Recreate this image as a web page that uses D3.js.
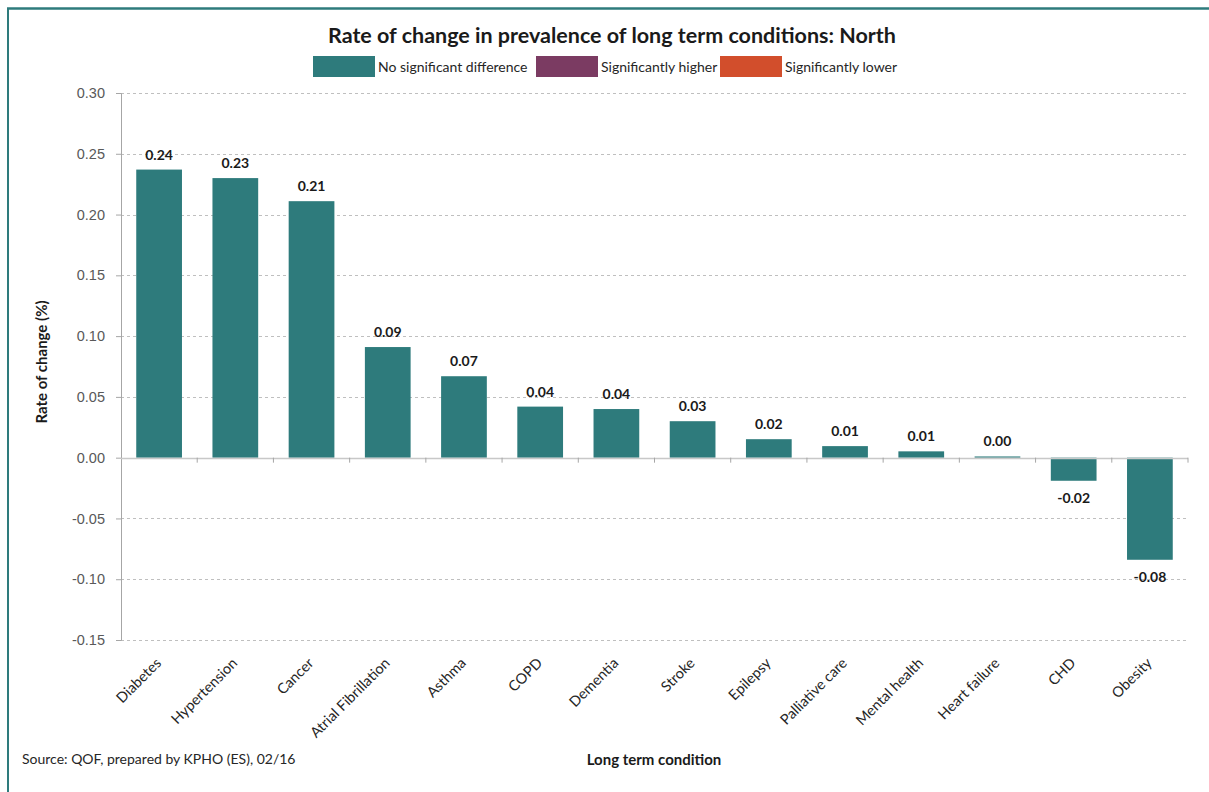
<!DOCTYPE html>
<html>
<head>
<meta charset="utf-8">
<script src="https://cdn.jsdelivr.net/npm/d3@7"></script>
<style>
  html, body { margin: 0; padding: 0; background: #fff; }
  svg { display: block; font-family: "Lato", "Open Sans", sans-serif; }
</style>
</head>
<body>
<svg id="chart" width="1209" height="792"></svg>
<script>
// Long term conditions, ordered by rate of change
const conditions = ["Diabetes", "Hypertension", "Cancer", "Atrial Fibrillation", "Asthma", "COPD",
  "Dementia", "Stroke", "Epilepsy", "Palliative care", "Mental health", "Heart failure", "CHD", "Obesity"];
const rateOfChange = [0.237, 0.230, 0.211, 0.091, 0.067, 0.042, 0.040, 0.030, 0.0152, 0.0095, 0.0052, 0.001, -0.019, -0.084];
const yTicks = [-0.15, -0.10, -0.05, 0.00, 0.05, 0.10, 0.15, 0.20, 0.25, 0.30];
const legendLabels = ["No significant difference", "Significantly higher", "Significantly lower"];
const legendColors = ["#2E7B7C", "#7B3B62", "#D24E2C"];

const svg = d3.select("#chart");
const margin = { left: 121, right: 1188, top: 93, bottom: 640 };

const x = d3.scaleBand().domain(conditions).range([margin.left, margin.right]).paddingInner(0.4).paddingOuter(0.2);
const y = d3.scaleLinear().domain([-0.15, 0.30]).range([margin.bottom, margin.top]);

// frame lines
svg.append("line").attr("x1", 7).attr("x2", 1209).attr("y1", 8.5).attr("y2", 8.5)
  .attr("stroke", "#2E7B7C").attr("stroke-width", 2.5);
svg.append("line").attr("x1", 8).attr("x2", 8).attr("y1", 8).attr("y2", 792)
  .attr("stroke", "#2E7B7C").attr("stroke-width", 2);

// gridlines
svg.append("g").selectAll("line").data(yTicks.filter(d => d !== 0)).join("line")
  .attr("x1", margin.left).attr("x2", margin.right)
  .attr("y1", d => Math.round(y(d)) + 0.5).attr("y2", d => Math.round(y(d)) + 0.5)
  .attr("stroke", "#bfbfbf").attr("stroke-dasharray", "3,3");

// y axis
const yAxis = svg.append("g").attr("transform", `translate(${margin.left},0)`)
  .call(d3.axisLeft(y).tickValues(yTicks).tickFormat(d3.format(".2f")).tickSize(5).tickPadding(11));
yAxis.select(".domain").attr("stroke", "#a6a6a6");
yAxis.selectAll(".tick line").attr("stroke", "#a6a6a6");
yAxis.selectAll(".tick text").attr("fill", "#595959").style("font-size", "14.5px")
  .text(d => d3.format(".2f")(d).replace("−", "-"));

// bars
svg.append("g").selectAll("rect").data(conditions).join("rect")
  .attr("x", d => x(d))
  .attr("width", x.bandwidth())
  .attr("y", (d, i) => y(Math.max(0, rateOfChange[i])))
  .attr("height", (d, i) => Math.abs(y(rateOfChange[i]) - y(0)))
  .attr("fill", legendColors[0]);

// x axis at zero
const step = x.step();
const boundaries = d3.range(conditions.length + 1).map(i => margin.left + i * step);
svg.append("line").attr("x1", margin.left).attr("x2", margin.right)
  .attr("y1", Math.round(y(0)) + 0.5).attr("y2", Math.round(y(0)) + 0.5)
  .attr("stroke", "#c8c8c8").attr("stroke-width", 1.5);
svg.append("g").selectAll("line").data(boundaries.slice(1)).join("line")
  .attr("x1", d => d).attr("x2", d => d)
  .attr("y1", y(0)).attr("y2", y(0) + 5)
  .attr("stroke", "#a6a6a6");

// value labels
svg.append("g").selectAll("text").data(conditions).join("text")
  .attr("x", d => x(d) + x.bandwidth() / 2)
  .attr("y", (d, i) => rateOfChange[i] >= 0 ? y(rateOfChange[i]) - 10 : y(rateOfChange[i]) + 22)
  .attr("text-anchor", "middle")
  .style("font-size", "14px").style("font-weight", "bold").attr("fill", "#1a1a1a")
  .text((d, i) => d3.format(".2f")(rateOfChange[i]).replace("−", "-"));

// category labels
svg.append("g").selectAll("text").data(conditions).join("text")
  .attr("transform", d => `translate(${x(d) + x.bandwidth() / 2 + 3},${664}) rotate(-45)`)
  .attr("text-anchor", "end")
  .style("font-size", "14.5px").attr("fill", "#262626")
  .text(d => d);

// title
svg.append("text").attr("x", 612).attr("y", 43).attr("text-anchor", "middle")
  .style("font-size", "21.5px").style("font-weight", "bold").attr("fill", "#1a1a1a")
  .text("Rate of change in prevalence of long term conditions: North");

// legend
const legendX = [313, 536, 720];
const lg = svg.append("g").selectAll("g").data(legendLabels).join("g")
  .attr("transform", (d, i) => `translate(${legendX[i]},56)`);
lg.append("rect").attr("width", 62).attr("height", 21).attr("fill", (d, i) => legendColors[i]);
lg.append("text").attr("x", 65).attr("y", 16).style("font-size", "14px").attr("fill", "#262626").text(d => d);

// axis titles
svg.append("text").attr("transform", "translate(47,362) rotate(-90)").attr("text-anchor", "middle")
  .style("font-size", "15px").style("font-weight", "bold").attr("fill", "#1a1a1a")
  .text("Rate of change (%)");
svg.append("text").attr("x", 654).attr("y", 765).attr("text-anchor", "middle")
  .style("font-size", "15px").style("font-weight", "bold").attr("fill", "#1a1a1a")
  .text("Long term condition");

// source note
svg.append("text").attr("x", 22).attr("y", 764)
  .style("font-size", "14px").attr("fill", "#262626")
  .text("Source: QOF, prepared by KPHO (ES), 02/16");
</script>
</body>
</html>
